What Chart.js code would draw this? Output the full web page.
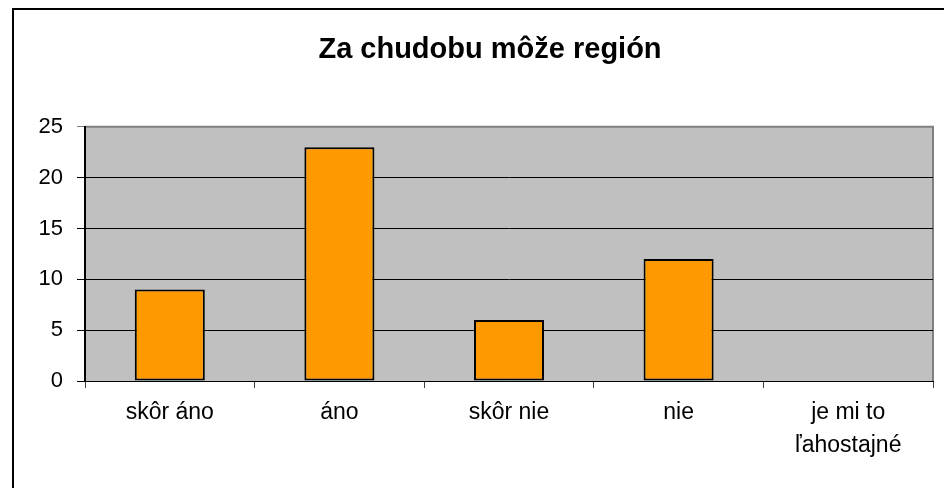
<!DOCTYPE html>
<html>
<head>
  <title>Za chudobu môže región</title>
  <script src="https://cdn.jsdelivr.net/npm/chart.js"></script>
  <style>
    html, body {
      margin: 0;
      padding: 0;
      overflow: hidden;
      background: #fff;
    }
    #frame {
      position: absolute;
      left: 12px;
      top: 8px;
      width: 960px;
      height: 490px;
      border-left: 2px solid #000;
      border-top: 2px solid #000;
    }
    #wrap {
      width: 952px;
      height: 478px;
    }
  </style>
</head>
<body>
  <div id="frame">
    <div id="wrap"><canvas id="poverty-region"></canvas></div>
  </div>

  <script>
    const categories = ['skôr áno', 'áno', 'skôr nie', 'nie', ['je mi to', 'ľahostajné']];
    const counts = [9, 23, 6, 12, 0];
    const yTicks = [0, 5, 10, 15, 20, 25];

    const plotBackground = {
      id: 'plotBackground',
      beforeDraw(chart) {
        const { ctx, chartArea: a } = chart;
        ctx.save();
        ctx.fillStyle = '#c0c0c0';
        ctx.fillRect(a.left, a.top, a.right - a.left, a.bottom - a.top);
        ctx.strokeStyle = '#808080';
        ctx.lineWidth = 2;
        ctx.beginPath();
        ctx.moveTo(a.left, a.top);
        ctx.lineTo(a.right, a.top);
        ctx.lineTo(a.right, a.bottom);
        ctx.stroke();
        ctx.restore();
      }
    };

    Chart.defaults.font.family = '"Liberation Sans", Arial, sans-serif';
    Chart.defaults.color = '#000';

    new Chart(document.getElementById('poverty-region').getContext('2d'), {
      type: 'bar',
      data: {
        labels: categories,
        datasets: [{
          data: counts,
          backgroundColor: '#ff9900',
          borderColor: '#000',
          borderWidth: 2,
          borderSkipped: false,
          categoryPercentage: 1,
          barPercentage: 0.413
        }]
      },
      options: {
        responsive: true,
        maintainAspectRatio: false,
        animation: false,
        layout: { padding: 0 },
        plugins: {
          legend: { display: false },
          tooltip: { enabled: false },
          title: {
            display: true,
            text: 'Za chudobu môže región',
            font: { size: 29, weight: 'bold', lineHeight: 1.2 },
            color: '#000',
            padding: { top: 23, bottom: 59 }
          }
        },
        scales: {
          x: {
            offset: true,
            border: { color: '#000', width: 1 },
            grid: { drawOnChartArea: false, tickLength: 7, color: '#404040' },
            ticks: { font: { size: 23, lineHeight: 1.4 }, padding: 9, maxRotation: 0 },
            afterFit(s) { s.height = 107; }
          },
          y: {
            min: 0,
            max: 25,
            afterBuildTicks(s) { s.ticks = yTicks.map(v => ({ value: v })); },
            border: { color: '#000', width: 2 },
            grid: {
              color: ctx => ctx.tick && ctx.tick.value === 25 ? '#808080' : '#000',
              tickLength: 8
            },
            ticks: { font: { size: 22 }, padding: 14 },
            afterFit(s) { s.width = 71; }
          },
          // empty right axis, only keeps the gap on the right side
          spacer: {
            position: 'right',
            min: 0,
            max: 25,
            grid: { display: false },
            border: { display: false },
            ticks: { display: false },
            afterFit(s) { s.width = 33; }
          }
        }
      },
      plugins: [plotBackground]
    });
  </script>
</body>
</html>
